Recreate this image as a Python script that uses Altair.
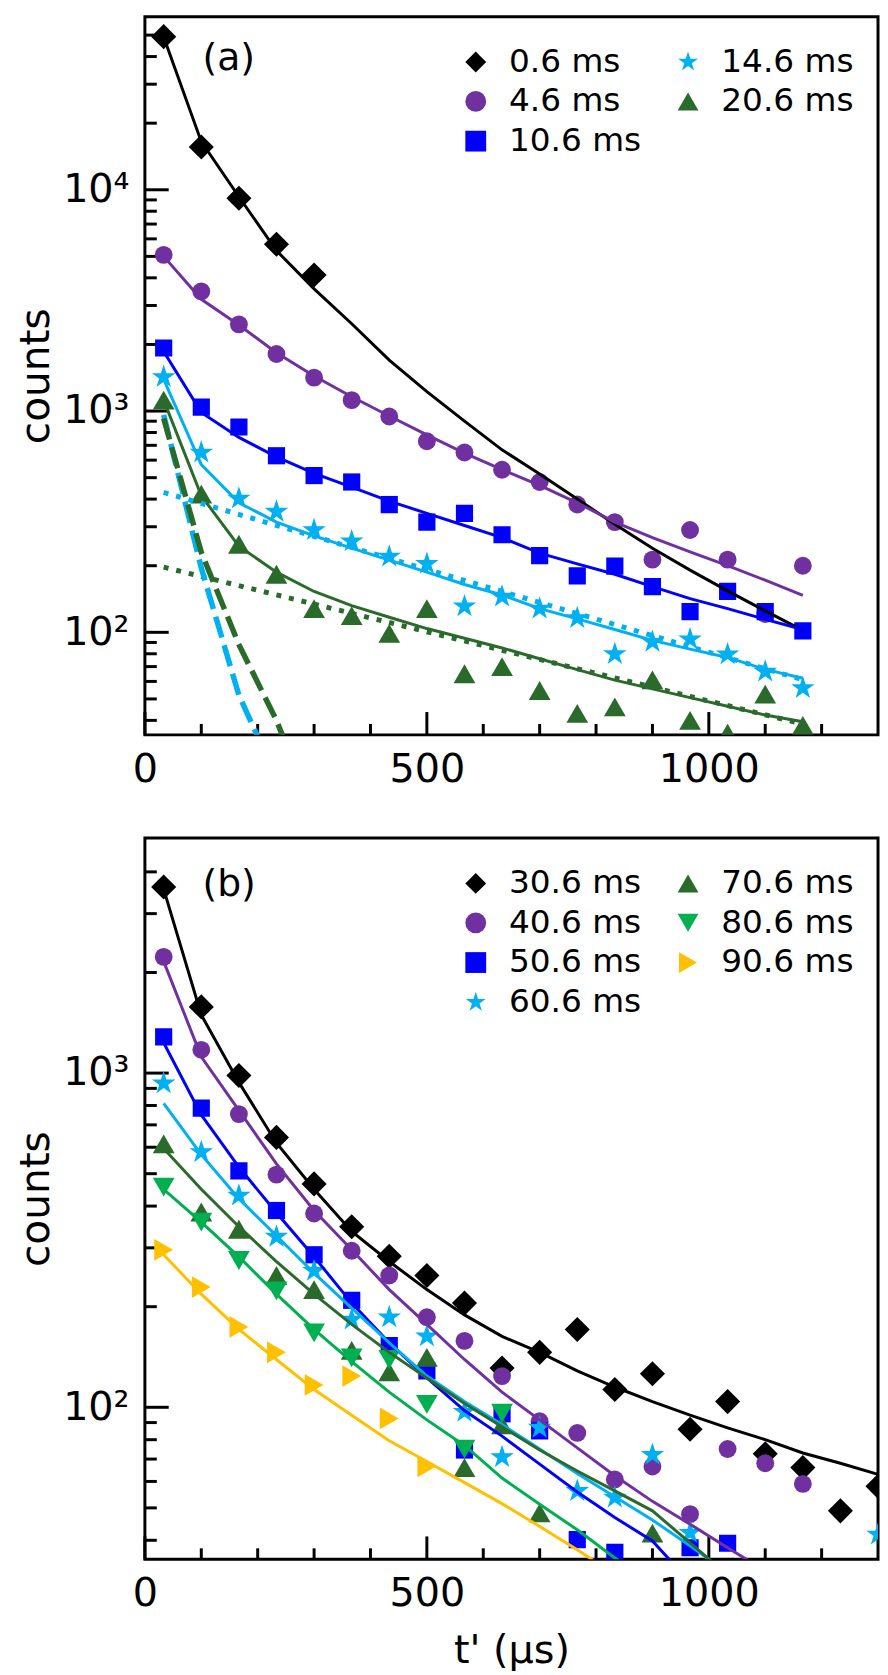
import altair as alt
import pandas as pd

# ---------------- data ----------------
T = [33.3, 100.0, 166.7, 233.3, 300.0, 366.7, 433.3, 500.0, 566.7, 633.3,
     700.0, 766.7, 833.3, 900.0, 966.7, 1033.3, 1100.0, 1166.7, 1233.3, 1300.0]

# panel (a)
A_SERIES = ["0.6 ms", "4.6 ms", "10.6 ms", "14.6 ms", "20.6 ms"]
A_PTS = {
    "0.6 ms": [49200, 15600, 9150, 5670, 4120],
    "4.6 ms": [5080, 3475, 2466, 1811, 1416, 1120, 945, 730, 650, 543, 478, 378, 315, 213, 290, 213, 121, 200],
    "10.6 ms": [1927, 1042, 847, 628, 511, 478, 378, 315, 345, 276, 222, 180, 199, 161, 124, 153, 124, 101.6],
    "14.6 ms": [1426, 650, 402, 351, 290, 258, 220, 204, 131, 145, 128, 116, 79.8, 90.6, 93, 79.5, 66.5, 56],
    "20.6 ms": [1120, 421, 250, 183, 128, 119, 99, 128, 65, 70, 54.6, 43, 46, 61, 40, 35, 52.6, 38],
}
A_FIT = {
    "0.6 ms": [49000, 16500, 9300, 5310, 3565, 2480, 1698, 1225, 901, 668, 520, 400, 308, 240, 191, 154, 125, 102],
    "4.6 ms": [5000, 3200, 2450, 1836, 1440, 1160, 950, 780, 645, 543, 461, 385, 315, 268, 231, 200, 172, 147],
    "10.6 ms": [1858, 986, 760, 621, 523, 453, 392, 345, 304, 268, 228, 204, 183, 161, 142, 128, 114.5, 103],
    "14.6 ms": [1390, 573, 385, 315, 273, 240, 212, 187, 164.5, 147.5, 128, 115, 103, 92, 84, 77, 68, 62],
    "20.6 ms": [1120, 414, 245, 187, 153, 132, 117, 104, 94, 85, 76, 67.8, 60.8, 55.5, 50.7, 46.3, 42.3, 39.4],
}
SLOW_IDX = [0, 9, 17]
A_SLOW = {"14.6 ms": [429, 153, 61], "20.6 ms": [197, 83, 38.5]}
A_FAST = {"14.6 ms": [960, 195, 52, 22], "20.6 ms": [925, 230, 88, 40, 15]}

# panel (b)
B_SERIES = ["30.6 ms", "40.6 ms", "50.6 ms", "60.6 ms", "70.6 ms", "80.6 ms", "90.6 ms"]
B_PTS = {
    "30.6 ms": [3606, 1578, 984, 642, 466, 347, 283, 248, 205, 131, 146, 171, 113, 126, 86, 104, 72.6, 66, 49, 58],
    "40.6 ms": [2228, 1174, 754, 497, 380, 294, 248, 186, 158, 124, 90.8, 83.8, 60.8, 66.5, 47.9, 75, 68, 59],
    "50.6 ms": [1284, 786, 510, 388, 286, 209, 153, 128.5, 74.5, 95.6, 85, 40.2, 36.8, None, 38, 39.2],
    "60.6 ms": [932, 580, 430, 324, 256, 183, 186, 163, 96.9, 71, 86.9, 56.2, 53.7, 72.1, 42.1, None, None, None, None, 41.6],
    "70.6 ms": [614, 384, 341, 248, 225, 148, 127.6, 141, 66, 88.6, 48.3, None, None, 42],
    "80.6 ms": [456, 358, 275, 223, 167, 140.6, 139, 102, 75, 96],
    "90.6 ms": [296, 229, 174, 146, 116.7, 124, 92.6, 66.6],
}
B_FIT = {
    "30.6 ms": [3550, 1493, 938, 618, 449, 336, 273, 225, 189, 163, 146, 128.5, 115, 104, 94.7, 86.8, 80, 73, 68, 63],
    "40.6 ms": [2159, 1119, 774, 535, 388, 296, 225, 177, 139, 111, 91.7, 75.6, 62.4, 52.3, 44.7, 38, 32.4],
    "50.6 ms": [1232, 750, 523, 382, 282, 205, 156, 122.4, 97.8, 82, 67.6, 55.8, 46.8, 39.8, 30],
    "60.6 ms": [812, 570, 421, 326, 252, 198, 156, 124, 104, 88.8, 75, 63.4, 54, 46, 38.5, 32],
    "70.6 ms": [595, 449, 347, 273, 218, 177, 146, 122.4, 102.6, 87.4, 74.5, 64.5, 56.2, 49, 39.3, 31.5],
    "80.6 ms": [449, 358, 282, 218, 171, 137, 111, 91.7, 76.9, 61.4, 51.3, 43, 35.4, 30],
    "90.6 ms": [286, 218, 171, 139, 113, 94.7, 79.4, 68.8, 59.5, 51.5, 44, 37.5, 31.5],
}

STAR = ("M0,-1L0.2245,-0.309L0.951,-0.309L0.363,0.118L0.588,0.809L0,0.382"
        "L-0.588,0.809L-0.363,0.118L-0.951,-0.309L-0.2245,-0.309Z")
COLOR = {"0.6 ms": "#000000", "4.6 ms": "#7030a0", "10.6 ms": "#0000ff", "14.6 ms": "#00b0f0",
         "20.6 ms": "#2a6a2a", "30.6 ms": "#000000", "40.6 ms": "#7030a0", "50.6 ms": "#0000ff",
         "60.6 ms": "#00b0f0", "70.6 ms": "#2a6a2a", "80.6 ms": "#00b050", "90.6 ms": "#ffc000"}
SHAPE = {"0.6 ms": "diamond", "4.6 ms": "circle", "10.6 ms": "square", "14.6 ms": STAR,
         "20.6 ms": "triangle-up", "30.6 ms": "diamond", "40.6 ms": "circle", "50.6 ms": "square",
         "60.6 ms": STAR, "70.6 ms": "triangle-up", "80.6 ms": "triangle-down", "90.6 ms": "triangle-right"}
# marker areas (style), applied per shape
MARKER_AREA = {"diamond": 640, "circle": 324, "square": 300, STAR: 620,
               "triangle-up": 480, "triangle-down": 480, "triangle-right": 480}

X_MAJOR = [0, 500, 1000]
X_MINOR = [100, 200, 300, 400, 600, 700, 800, 900, 1100, 1200]
A_YMAJOR = [100, 1000, 10000]
A_YMINOR = [40, 50, 60, 70, 80, 90, 200, 300, 400, 500, 600, 700, 800, 900,
            2000, 3000, 4000, 5000, 6000, 7000, 8000, 9000, 20000, 30000, 40000, 50000]
B_YMAJOR = [100, 1000]
B_YMINOR = [40, 50, 60, 70, 80, 90, 200, 300, 400, 500, 600, 700, 800, 900, 2000, 3000, 4000]
A_YDOM = [34.4, 60600]
B_YDOM = [35.1, 5050]


def long_df(d, order, idx=None):
    rows = []
    for s in order:
        if s not in d:
            continue
        for i, v in enumerate(d[s]):
            if v is None:
                continue
            t = T[idx[i]] if idx else T[i]
            rows.append({"series": s, "t": t, "v": v})
    return pd.DataFrame(rows)


def panel(series, pts, fit, slow, fast, ydom, ymajor, yminor, height, xtitle, tag, tag_y):
    order = series  # legend fills column by column
    xs = alt.Scale(domain=[0, 1300], nice=False, zero=False)
    ys = alt.Scale(type="log", domain=ydom, nice=False)
    col = alt.Scale(domain=order, range=[COLOR[s] for s in order])
    shp = alt.Scale(domain=order, range=[SHAPE[s] for s in order])

    xaxis_kw = dict(values=X_MAJOR, format="d", labelFontSize=40, labelFlush=False, labelPadding=15,
                    ticks=False, domain=False, grid=False, labelColor="black",
                    titleFontSize=40, titleFontWeight="normal", titleColor="black", titlePadding=17)
    xaxis_kw["title"] = xtitle if xtitle else None
    xaxis = alt.Axis(**xaxis_kw)
    yaxis = alt.Axis(values=ymajor, labelExpr="datum.value == 100 ? '10²' : datum.value == 1000 ? '10³' : '10⁴'",
                     labelFontSize=40, labelFlush=False, labelPadding=16, ticks=False, domain=False,
                     grid=False, labelColor="black", title="counts", titleFontSize=41,
                     titleFontWeight="normal", titleColor="black", titlePadding=5)
    X = alt.X("t:Q", scale=xs, axis=xaxis)
    Y = alt.Y("v:Q", scale=ys, axis=yaxis)

    leg = alt.Legend(orient="none", legendX=317, legendY=29, columns=2, labelFontSize=33,
                     labelColor="black", labelOffset=17, columnPadding=30, rowPadding=6,
                     padding=0, symbolStrokeWidth=0, title=None, labelLimit=400, symbolOpacity=1,
                     symbolSize=440)

    xt_major = alt.Chart(pd.DataFrame({"t": X_MAJOR})).mark_rule(color="black", strokeWidth=3).encode(
        x=X, y=alt.value(height), y2=alt.value(height - 23))
    xt_minor = alt.Chart(pd.DataFrame({"t": X_MINOR})).mark_rule(color="black", strokeWidth=3).encode(
        x=X, y=alt.value(height), y2=alt.value(height - 11))
    yt_major = alt.Chart(pd.DataFrame({"v": ymajor})).mark_rule(color="black", strokeWidth=3).encode(
        y=Y, x=alt.value(0), x2=alt.value(24))
    yt_minor = alt.Chart(pd.DataFrame({"v": yminor})).mark_rule(color="black", strokeWidth=3).encode(
        y=Y, x=alt.value(0), x2=alt.value(12))

    pdf = long_df(pts, series)
    pdf["area"] = [MARKER_AREA[SHAPE[s]] for s in pdf["series"]]
    points = alt.Chart(pdf).mark_point(filled=True, opacity=1, clip=True, strokeWidth=0).encode(
        x=X, y=Y,
        color=alt.Color("series:N", scale=col, legend=leg, title=None),
        shape=alt.Shape("series:N", scale=shp, legend=leg, title=None),
        size=alt.Size("area:Q", scale=None),
    )
    fits = alt.Chart(long_df(fit, series)).mark_line(strokeWidth=3, clip=True).encode(
        x=X, y=Y, color=alt.Color("series:N", scale=col, legend=None))
    layers = [xt_major, xt_minor, yt_major, yt_minor, points, fits]
    if slow:
        layers.append(alt.Chart(long_df(slow, series, SLOW_IDX)).mark_line(
            strokeWidth=5, strokeDash=[5, 8], clip=True).encode(
            x=X, y=Y, color=alt.Color("series:N", scale=col, legend=None)))
    if fast:
        layers.append(alt.Chart(long_df(fast, series)).mark_line(
            strokeWidth=5.5, strokeDash=[22, 8], clip=True).encode(
            x=X, y=Y, color=alt.Color("series:N", scale=col, legend=None)))
    label = alt.Chart(pd.DataFrame({"tag": [tag]})).mark_text(
        align="left", baseline="middle", fontSize=38, color="black").encode(
        x=alt.value(58), y=alt.value(tag_y), text="tag:N")
    layers.append(label)
    return alt.layer(*layers).properties(width=739, height=height)


pa = panel(A_SERIES, A_PTS, A_FIT, A_SLOW, A_FAST, A_YDOM, A_YMAJOR, A_YMINOR, 724, None, "(a)", 43)
pb = panel(B_SERIES, B_PTS, B_FIT, None, None, B_YDOM, B_YMAJOR, B_YMINOR, 727, "t' (µs)", "(b)", 47)

chart = alt.vconcat(pa, pb, spacing=45).resolve_scale(
    x="independent", y="independent", color="independent", shape="independent"
).resolve_legend(
    color="independent", shape="independent"
).properties(padding={"left": 6, "top": 0, "right": 0, "bottom": 0}).configure(
    font="DejaVu Sans").configure_view(stroke="black", strokeWidth=3)

chart.save("out.html", embed_options={"renderer": "svg", "actions": False})
